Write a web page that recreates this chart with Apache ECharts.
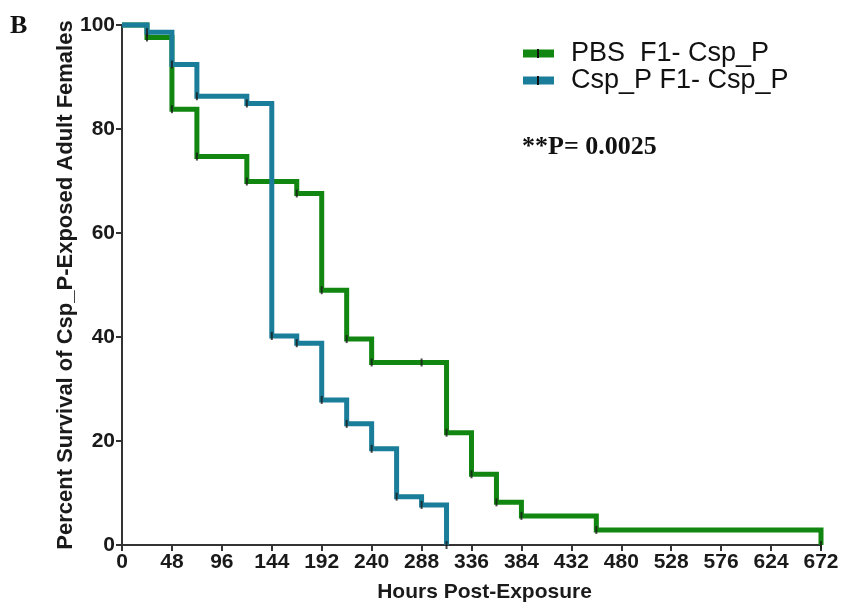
<!DOCTYPE html>
<html>
<head>
<meta charset="utf-8">
<script src="https://cdn.jsdelivr.net/npm/echarts@6/dist/echarts.min.js"></script>
<style>
  html, body { margin: 0; padding: 0; background: #fff; }
  #chart { width: 842px; height: 611px; }
</style>
</head>
<body>
<div id="chart"></div>
<script>
// hours at which each group's survival changes, and the level after the change
const pbsHours = [0, 24, 48, 72, 120, 168, 192, 216, 240, 312, 336, 360, 384, 456, 672, 672]
const pbsSurvival = [100, 97.6, 83.8, 74.7, 69.9, 67.6, 49.0, 39.6, 35.1, 21.6, 13.6, 8.2, 5.6, 2.9, 2.9, 0]
const cspHours = [0, 24, 48, 72, 120, 144, 168, 192, 216, 240, 264, 288, 312]
const cspSurvival = [100, 98.6, 92.4, 86.3, 84.9, 40.2, 38.8, 27.9, 23.3, 18.5, 9.3, 7.7, 0]
// extra censored subject marks (hour, survival)
const pbsCensored = [[288, 35.1]]
const cspCensored = []

const seriesNames = ['PBS  F1- Csp_P', 'Csp_P F1- Csp_P']
const xTicks = { min: 0, max: 672, interval: 48 }
const yTicks = { min: 0, max: 100, interval: 20 }

const green = '#118611'
const blue = '#1a7d99'

function toPoints(hours, surv) {
  return hours.map((h, i) => [h, surv[i]])
}
// a small tick at every drop of the curve
function dropMarks(hours, surv) {
  const out = []
  for (let i = 1; i < hours.length; i++) {
    if (surv[i] < surv[i - 1]) out.push([hours[i], surv[i]])
  }
  return out
}

const pbsLine = toPoints(pbsHours, pbsSurvival)
const cspLine = toPoints(cspHours, cspSurvival)
const marks = dropMarks(pbsHours, pbsSurvival)
  .concat(pbsCensored)
  .concat(dropMarks(cspHours, cspSurvival))
  .concat(cspCensored)

const chart = echarts.init(document.getElementById('chart'))

const labelFont = { color: '#1a1a1a', fontSize: 21, fontWeight: 'bold', fontFamily: 'Liberation Sans, Arial, sans-serif' }

chart.setOption({
  animation: false,
  grid: { left: 122, right: 21, top: 25, bottom: 66, outerBoundsMode: 'none', containLabel: false },
  legend: {
    orient: 'vertical',
    left: 523,
    top: 40,
    padding: 0,
    itemWidth: 31,
    itemHeight: 8,
    itemGap: 0,
    data: [
      { name: seriesNames[0], icon: 'rect' },
      { name: seriesNames[1], icon: 'rect' }
    ],
    textStyle: {
      color: '#111',
      fontSize: 27,
      lineHeight: 27,
      fontFamily: 'Liberation Sans, Arial, sans-serif',
      padding: [0, 0, 0, 12]
    }
  },
  xAxis: {
    type: 'value',
    min: xTicks.min,
    max: xTicks.max,
    interval: xTicks.interval,
    name: 'Hours Post-Exposure',
    nameLocation: 'middle',
    nameGap: 37,
    nameTextStyle: Object.assign({}, labelFont, { padding: [0, 0, 0, 26] }),
    axisLine: { onZero: false, lineStyle: { color: '#333', width: 2 } },
    axisTick: { length: 6, lineStyle: { color: '#333', width: 2 } },
    axisLabel: Object.assign({ margin: 7 }, labelFont),
    splitLine: { show: false }
  },
  yAxis: {
    type: 'value',
    min: yTicks.min,
    max: yTicks.max,
    interval: yTicks.interval,
    name: 'Percent Survival of Csp_P-Exposed Adult Females',
    nameLocation: 'middle',
    nameGap: 45,
    nameMoveOverlap: false,
    nameTextStyle: Object.assign({}, labelFont, { fontSize: 22 }),
    axisLine: { show: true, lineStyle: { color: '#333', width: 2 } },
    axisTick: { show: true, length: 6, lineStyle: { color: '#333', width: 2 } },
    axisLabel: Object.assign({ margin: 7 }, labelFont),
    splitLine: { show: false }
  },
  graphic: [
    { type: 'text', left: 10, top: 13, style: { text: 'B', fill: '#111', font: 'bold 26px "Liberation Serif", "Times New Roman", serif' } },
    { type: 'text', left: 522, top: 134, style: { text: '**P= 0.0025', fill: '#111', font: 'bold 26px "Liberation Serif", "Times New Roman", serif' } },
    { type: 'rect', left: 537, top: 49, shape: { width: 2, height: 9 }, style: { fill: '#111' }, z: 100 },
    { type: 'rect', left: 537, top: 76, shape: { width: 2, height: 9 }, style: { fill: '#111' }, z: 100 }
  ],
  series: [
    {
      name: seriesNames[0],
      type: 'line',
      step: 'end',
      data: pbsLine,
      showSymbol: false,
      clip: false,
      color: green,
      lineStyle: { color: green, width: 5, join: 'miter', cap: 'butt' },
      z: 2
    },
    {
      name: seriesNames[1],
      type: 'line',
      step: 'end',
      data: cspLine,
      showSymbol: false,
      clip: false,
      color: blue,
      lineStyle: { color: blue, width: 5, join: 'miter', cap: 'butt' },
      z: 3
    },
    {
      name: 'censor',
      type: 'scatter',
      data: marks,
      symbol: 'rect',
      symbolSize: [2, 8],
      itemStyle: { color: '#1a1a1a' },
      silent: true,
      z: 4
    }
  ]
})
</script>
</body>
</html>
